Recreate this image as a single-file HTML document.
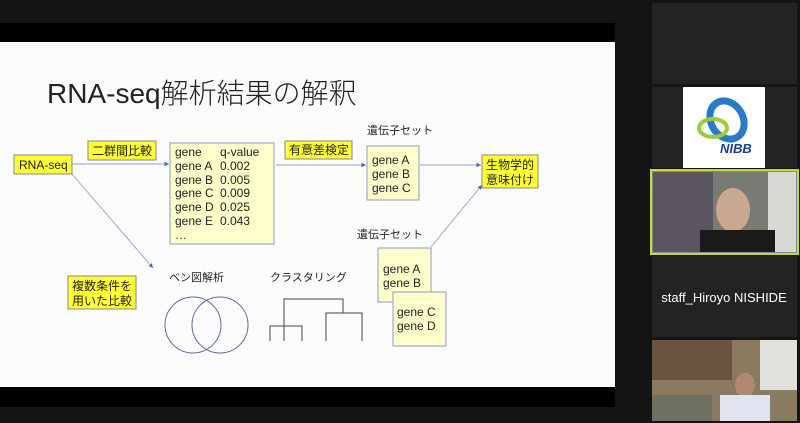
<!DOCTYPE html>
<html><head><meta charset="utf-8"><style>
html,body{margin:0;padding:0;background:#141414;width:800px;height:423px;overflow:hidden}
svg{display:block}
text{font-family:"Liberation Sans","Noto Sans CJK JP",sans-serif}
</style></head><body>
<svg width="800" height="423" viewBox="0 0 800 423" xmlns="http://www.w3.org/2000/svg">
<defs><marker id="a" markerWidth="6" markerHeight="6" refX="5" refY="3" orient="auto"><path d="M0,0.5 L5,3 L0,5.5z" fill="#4a66c0"/></marker></defs>
<rect width="800" height="423" fill="#141414"/>
<rect x="0" y="23" width="615" height="384" fill="#000"/>
<rect x="0" y="42" width="615" height="345" fill="#fcfcfc"/>
<text x="47" y="103" font-size="28" fill="#222" font-weight="300">RNA-seq解析結果の解釈</text>
<g stroke="#8fa0d0" stroke-width="0.9" fill="none">
<line x1="72" y1="164" x2="169" y2="164" marker-end="url(#a)"/>
<line x1="276" y1="165" x2="366" y2="165" marker-end="url(#a)"/>
<line x1="420" y1="165" x2="481" y2="165" marker-end="url(#a)"/>
<line x1="72" y1="174" x2="153" y2="268" marker-end="url(#a)"/>
<line x1="431" y1="247" x2="482" y2="185" marker-end="url(#a)"/>
</g>
<g stroke="#888" stroke-width="1" fill="#ffff33">
<rect x="14" y="155" width="58" height="19"/>
<rect x="88" y="141" width="68" height="19"/>
<rect x="285" y="141" width="67" height="18"/>
<rect x="482" y="155" width="56" height="33"/>
<rect x="68" y="276" width="68" height="33"/>
</g>
<g stroke="#8a9bc4" stroke-width="1" fill="#ffffcc">
<rect x="170" y="143" width="104" height="101"/>
<rect x="367" y="146" width="52" height="54"/>
<rect x="378" y="248" width="53" height="54"/>
<rect x="393" y="292" width="53" height="54"/>
</g>
<g font-size="12" fill="#222">
<text x="19" y="169">RNA-seq</text>
<text x="92" y="155">二群間比較</text>
<text x="289" y="154">有意差検定</text>
<text x="486" y="169">生物学的</text>
<text x="486" y="184">意味付け</text>
<text x="72" y="290">複数条件を</text>
<text x="72" y="305">用いた比較</text>
<text x="175" y="156">gene</text><text x="220" y="156">q-value</text>
<text x="175" y="170">gene A</text><text x="220" y="170">0.002</text>
<text x="175" y="184">gene B</text><text x="220" y="184">0.005</text>
<text x="175" y="197">gene C</text><text x="220" y="197">0.009</text>
<text x="175" y="211">gene D</text><text x="220" y="211">0.025</text>
<text x="175" y="225">gene E</text><text x="220" y="225">0.043</text>
<text x="175" y="239">…</text>
<text x="372" y="164">gene A</text>
<text x="372" y="178">gene B</text>
<text x="372" y="192">gene C</text>
<text x="383" y="273">gene A</text>
<text x="383" y="287">gene B</text>
<text x="397" y="316">gene C</text>
<text x="397" y="330">gene D</text>
<text x="367" y="134" font-size="11">遺伝子セット</text>
<text x="357" y="238" font-size="11">遺伝子セット</text>
<text x="169" y="281" font-size="11">ベン図解析</text>
<text x="270" y="281" font-size="11">クラスタリング</text>
</g>
<g stroke="#5a6aa0" fill="none" stroke-width="1">
<circle cx="193" cy="325" r="28"/><circle cx="220" cy="325" r="28"/>
</g>
<g stroke="#444" fill="none" stroke-width="1">
<polyline points="284,341 284,299 343,299 343,313"/>
<polyline points="270,341 270,326 302,326 302,341"/>
<polyline points="326,341 326,313 362,313 362,341"/>
</g>
<rect x="652" y="3" width="145" height="81" fill="#232323"/>
<rect x="652" y="87" width="145" height="81" fill="#232323"/>
<rect x="683" y="87" width="82" height="81" fill="#fff"/>
<ellipse cx="727" cy="120" rx="16" ry="20" transform="rotate(-30 727 120)" fill="none" stroke="#2a7ac8" stroke-width="7"/>
<ellipse cx="713" cy="128" rx="14" ry="9" fill="none" stroke="#9ccc3a" stroke-width="4"/>
<text x="720" y="153" font-size="13" font-weight="bold" font-style="italic" fill="#1a3f9a">NIBB</text>
<rect x="651" y="170" width="147" height="84" fill="#8a8a80" stroke="#c8d838" stroke-width="2"/>
<rect x="653" y="172" width="60" height="80" fill="#5a5560"/>
<rect x="713" y="172" width="55" height="80" fill="#7a7a74"/>
<rect x="768" y="172" width="28" height="80" fill="#d8d8d4"/>
<ellipse cx="733" cy="210" rx="17" ry="22" fill="#c8a890"/>
<rect x="700" y="230" width="75" height="22" fill="#1a1a1a"/>
<rect x="652" y="256" width="145" height="81" fill="#232323"/>
<text x="724" y="302" font-size="13" fill="#fff" text-anchor="middle">staff_Hiroyo NISHIDE</text>
<rect x="652" y="340" width="145" height="81" fill="#8a7a60"/>
<rect x="652" y="340" width="80" height="40" fill="#6a5440"/>
<rect x="760" y="340" width="37" height="50" fill="#e0e0dc"/>
<ellipse cx="745" cy="385" rx="10" ry="12" fill="#b08870"/>
<rect x="720" y="395" width="50" height="26" fill="#dfe4ee"/>
<rect x="652" y="395" width="60" height="26" fill="#707060"/>
</svg>
</body></html>
